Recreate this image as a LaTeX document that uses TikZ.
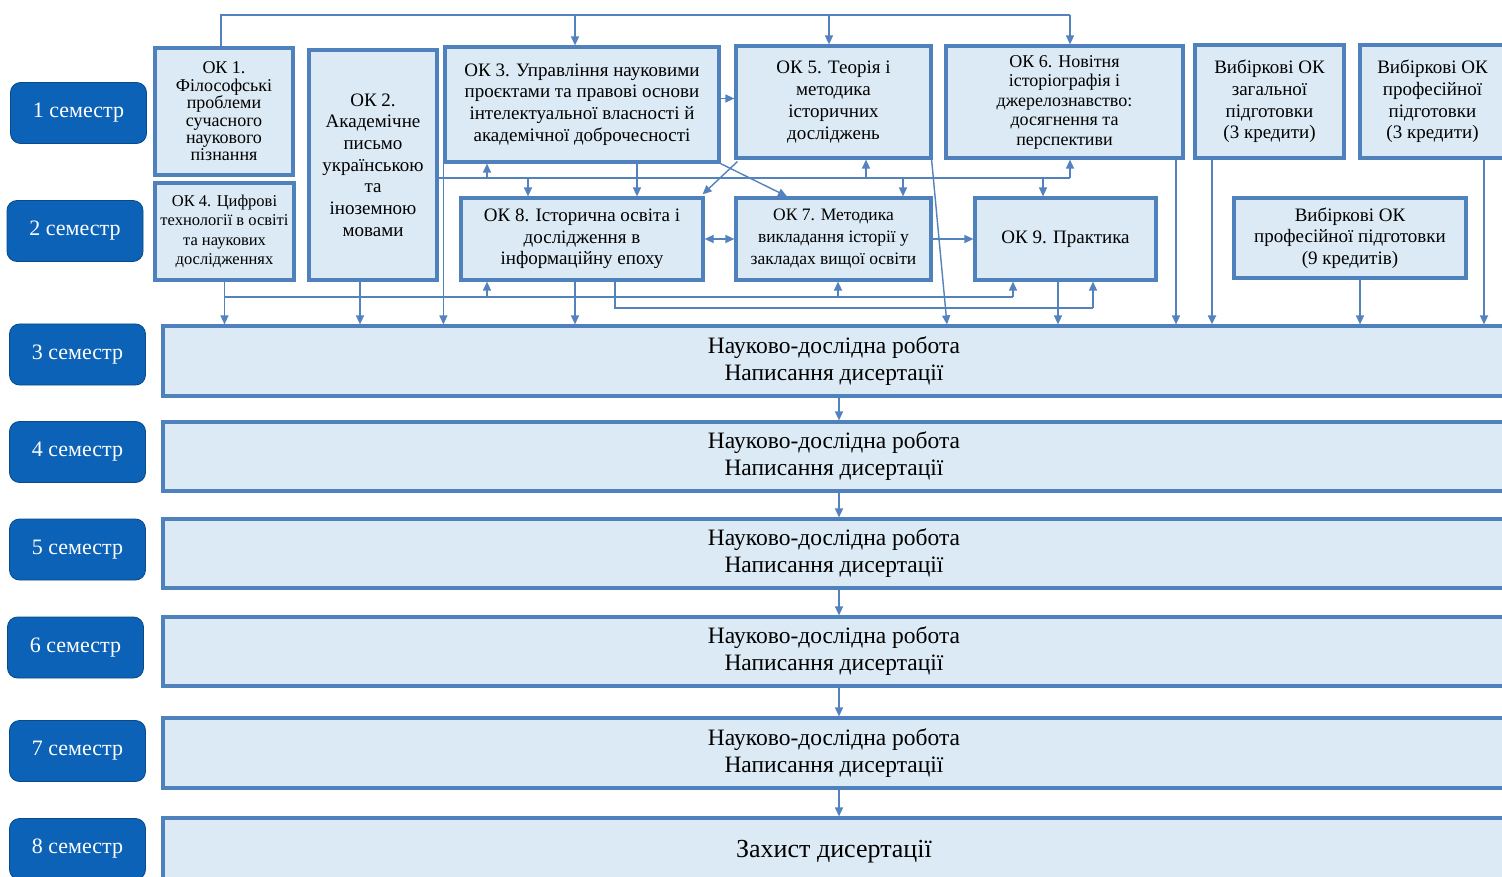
\documentclass[tikz,border=0pt]{standalone}
\usepackage{fontspec}
\setmainfont{Liberation Serif}
\usetikzlibrary{arrows.meta,calc}
\definecolor{boxfill}{RGB}{219,234,244}
\definecolor{boxline}{RGB}{79,129,189}
\definecolor{semfill}{RGB}{12,98,182}
\definecolor{linecol}{RGB}{84,130,190}
\begin{document}
\begin{tikzpicture}[x=1pt,y=-1pt,
  okbox/.style={draw=boxline, fill=boxfill, line width=3.2pt, align=center, inner sep=0pt, font=\fontsize{19}{21.7}\selectfont},
  bigbox/.style={draw=boxline, fill=boxfill, line width=3.2pt, align=center, inner sep=0pt, minimum width=1342pt, font=\fontsize{23.5}{27}\selectfont},
  sem/.style={draw=semfill!75!black, line width=0.8pt, fill=semfill, rounded corners=10pt, text=white, font=\fontsize{22}{24}\selectfont, minimum width=136pt, minimum height=61pt, inner sep=0pt},
  wire/.style={draw=linecol, line width=1.4pt},
  arr/.style={wire, -{Triangle[length=9pt,width=8pt]}},
  arrs/.style={wire, {Triangle[length=9pt,width=8pt]}-{Triangle[length=9pt,width=8pt]}},
]
\useasboundingbox (0,0) rectangle (1502,877);
\clip (0,0) rectangle (1502,877);
\fill[white] (0,0) rectangle (1502,877);

% semester labels
\node[sem] (s1) at (78.5,113) {1 семестр};
\node[sem] (s2) at (75,231) {2 семестр};
\node[sem] (s3) at (77.5,354.5) {3 семестр};
\node[sem] (s4) at (77.5,452) {4 семестр};
\node[sem] (s5) at (77.5,549.5) {5 семестр};
\node[sem] (s6) at (75.5,647.5) {6 семестр};
\node[sem] (s7) at (77.5,751) {7 семестр};
\node[sem] (s8) at (77.5,849) {8 семестр};

% top row
\node[okbox, minimum width=138pt, minimum height=127pt, font=\fontsize{18}{17.4}\selectfont] (ok1) at (224,111.5) {ОК 1.\\Філософські\\проблеми\\сучасного\\наукового\\пізнання};
\node[okbox, minimum width=128pt, minimum height=230pt] (ok2) at (373,165) {ОК 2.\\Академічне\\письмо\\українською\\та\\іноземною\\мовами};
\node[okbox, minimum width=274pt, minimum height=115pt] (ok3) at (582,104.5) {ОК 3. Управління науковими\\проєктами та правові основи\\інтелектуальної власності й\\академічної доброчесності};
\node[okbox, minimum width=195pt, minimum height=112pt] (ok5) at (833.5,102) {ОК 5. Теорія і\\методика\\історичних\\досліджень};
\node[okbox, minimum width=237pt, minimum height=112pt, font=\fontsize{18}{19.5}\selectfont] (ok6) at (1064.5,102) {ОК 6. Новітня\\історіографія і\\джерелознавство:\\досягнення та\\перспективи};
\node[okbox, minimum width=149pt, minimum height=113pt] (vg) at (1269.5,101.5) {Вибіркові ОК\\загальної\\підготовки\\(3 кредити)};
\node[okbox, minimum width=145pt, minimum height=113pt] (vp) at (1432.5,101.5) {Вибіркові ОК\\професійної\\підготовки\\(3 кредити)};

% second row
\node[okbox, minimum width=139pt, minimum height=97pt, font=\fontsize{16.5}{19.5}\selectfont] (ok4) at (224.5,231.5) {ОК 4. Цифрові\\технології в освіті\\та наукових\\дослідженнях};
\node[okbox, minimum width=242pt, minimum height=82pt] (ok8) at (582,239) {ОК 8. Історична освіта і\\дослідження в\\інформаційну епоху};
\node[okbox, minimum width=195pt, minimum height=82pt, font=\fontsize{17.5}{22}\selectfont] (ok7) at (833.5,239) {ОК 7. Методика\\викладання історії у\\закладах вищої освіти};
\node[okbox, minimum width=181pt, minimum height=82pt] (ok9) at (1065.5,239) {ОК 9. Практика};
\node[okbox, minimum width=232pt, minimum height=80pt] (vp9) at (1350,238) {Вибіркові ОК\\професійної підготовки\\(9 кредитів)};

% big boxes
\node[bigbox, minimum height=70pt] (b3) at (834,361) {Науково-дослідна робота\\Написання дисертації};
\node[bigbox, minimum height=69pt] (b4) at (834,456.5) {Науково-дослідна робота\\Написання дисертації};
\node[bigbox, minimum height=69pt] (b5) at (834,553.5) {Науково-дослідна робота\\Написання дисертації};
\node[bigbox, minimum height=69pt] (b6) at (834,651.5) {Науково-дослідна робота\\Написання дисертації};
\node[bigbox, minimum height=70pt] (b7) at (834,753) {Науково-дослідна робота\\Написання дисертації};
\node[bigbox, minimum height=67pt, font=\fontsize{26}{28}\selectfont] (b8) at (834,851.5) {Захист дисертації};

% helper coordinates
\coordinate (yT) at (0,15);
\coordinate (yB) at (0,178);
\coordinate (yJ) at (0,297);
\coordinate (yK) at (0,308);
\foreach \v in {221,360,487,528,575,615,637,787,829,838,839,866,903,947,1013,1043,1058,1070,1093,1176,1212,1360,1484}
  \coordinate (x\v) at (\v,0);

% top bus
\draw[wire] (x221 |- ok1.north) -- (x221 |- yT) -- (x1070 |- yT);
\draw[arr] (x1070 |- yT) -- (x1070 |- ok6.north);
\draw[arr] (x575 |- yT) -- (x575 |- ok3.north);
\draw[arr] (x829 |- yT) -- (x829 |- ok5.north);

% OK3 -> OK5
\draw[arr] ([yshift=6pt]ok3.east) -- ([yshift=6pt]ok3.east -| ok5.west);

% bus between rows 1 and 2
\draw[wire] (ok2.east |- yB) -- (x1070 |- yB);
\draw[arr] (x1070 |- yB) -- (x1070 |- ok6.south);
\draw[arr] (x487 |- yB) -- (x487 |- ok3.south);
\draw[arr] (x528 |- yB) -- (x528 |- ok8.north);
\draw[arr] (x866 |- yB) -- (x866 |- ok5.south);
\draw[arr] (x903 |- yB) -- (x903 |- ok7.north);
\draw[arr] (x1043 |- yB) -- (x1043 |- ok9.north);
\draw[arr] (x637 |- ok3.south) -- (x637 |- ok8.north);

% diagonals
\draw[arr] ([xshift=3pt,yshift=-2pt]ok5.south west) -- ([xshift=-2pt,yshift=2pt]ok8.north east);
\draw[arr] (ok3.south east) -- (x787 |- ok7.north);
\draw[arr] ([xshift=-1pt]ok5.south east) -- (x947 |- b3.north);

% row 2 horizontal links
\draw[arrs] (ok8.east) -- (ok7.west);
\draw[arr] (ok7.east) -- (ok9.west);

% bus below row 2
\draw[arr] (ok4.south) -- (ok4.south |- b3.north);
\draw[wire] (ok4.south |- yJ) -- (x1013 |- yJ);
\draw[arr] (x1013 |- yJ) -- (x1013 |- ok9.south);
\draw[arr] (x487 |- yJ) -- (x487 |- ok8.south);
\draw[arr] (x838 |- yJ) -- (x838 |- ok7.south);
\draw[wire] (x615 |- ok8.south) -- (x615 |- yK) -- (x1093 |- yK);
\draw[arr] (x1093 |- yK) -- (x1093 |- ok9.south);

% into semester 3
\draw[arr] (x360 |- ok2.south) -- (x360 |- b3.north);
\draw[arr] (ok3.south west) -- (ok3.south west |- b3.north);
\draw[arr] (x575 |- ok8.south) -- (x575 |- b3.north);
\draw[arr] (x1058 |- ok9.south) -- (x1058 |- b3.north);
\draw[arr] (x1176 |- ok6.south) -- (x1176 |- b3.north);
\draw[arr, line width=2pt] (x1212 |- vg.south) -- (x1212 |- b3.north);
\draw[arr] (x1360 |- vp9.south) -- (x1360 |- b3.north);
\draw[arr] (x1484 |- vp.south) -- (x1484 |- b3.north);

% between semesters
\foreach \a/\b in {b3/b4,b4/b5,b5/b6,b6/b7,b7/b8}
  \draw[arr] (x839 |- \a.south) -- (x839 |- \b.north);
\end{tikzpicture}
\end{document}
